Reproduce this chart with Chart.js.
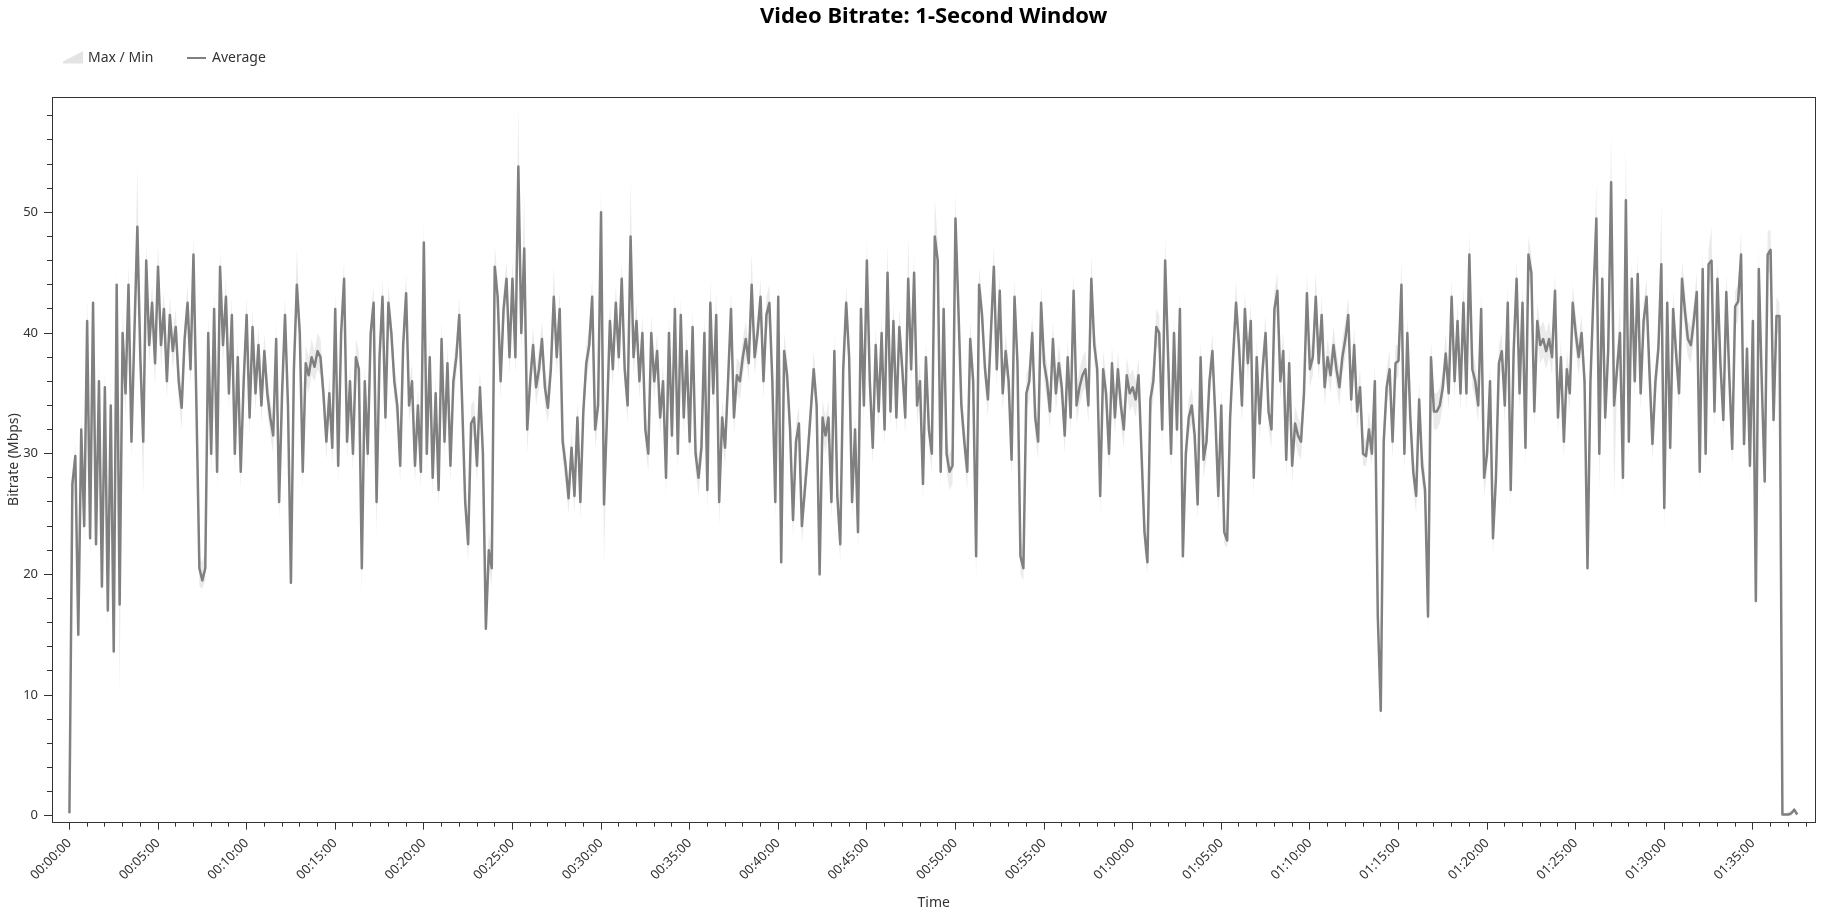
<!DOCTYPE html>
<html>
<head>
<meta charset="utf-8">
<title>Video Bitrate: 1-Second Window</title>
<script src="https://cdn.jsdelivr.net/npm/chart.js@4.4.1/dist/chart.umd.min.js"></script>
<style>
  html, body { margin: 0; padding: 0; background: #fff; }
  #wrap { width: 1842px; height: 917px; position: relative; }
</style>
</head>
<body>
<div id="wrap"><canvas id="bitrate-chart"></canvas></div>
<script>
// one sample every 10 seconds, values in Mbps
const sampleStep = 10;

const avgMbps = [
  0.2, 27.5, 29.8, 15, 32, 24, 41, 23, 42.5, 22.5,
  36, 19, 35.5, 17, 34, 13.6, 44, 17.5, 40, 35,
  44, 31, 40, 48.8, 38, 31, 46, 39, 42.5, 37.5,
  45.5, 39, 42, 36, 41.5, 38.5, 40.5, 36, 33.8, 39.5,
  42.5, 37, 46.5, 34, 20.5, 19.5, 20.5, 40, 30, 42,
  28.5, 45.5, 39, 43, 35, 41.5, 30, 38, 28.5, 36,
  41.5, 33, 40.5, 35, 39, 34, 38.5, 35, 33, 31.5,
  39.5, 26, 35, 41.5, 34, 19.3, 37, 44, 40, 28.5,
  37.5, 36.5, 38, 37.2, 38.5, 38, 35, 31, 35, 30.5,
  42, 29, 40, 44.5, 31, 36, 30, 38, 37, 20.5,
  36, 30, 40, 42.5, 26, 38, 43, 33, 42.5, 40,
  36, 34, 29, 39, 43.3, 34, 36, 29, 34, 28.5,
  47.5, 30, 38, 28, 35, 27, 39.5, 31, 37.5, 29,
  36, 38, 41.5, 34, 26, 22.5, 32.5, 33, 29, 35.5,
  30, 15.5, 22, 20.5, 45.5, 43, 36, 42, 44.5, 38,
  44.5, 38, 53.8, 40, 47, 32, 36, 39, 35.5, 37,
  39.5, 35.5, 33.8, 37, 43, 38, 42, 31, 29, 26.3,
  30.5, 26.5, 33, 26, 33.5, 37.5, 39, 43, 32, 34,
  50, 25.8, 33, 41, 37, 42.5, 38, 44.5, 37, 34,
  48, 38, 41, 36, 40, 32, 30, 40, 36, 38.5,
  33, 36, 28, 40, 31.5, 42, 30, 41.5, 33, 38.5,
  31, 40.5, 30, 28, 30.5, 40, 27, 42.5, 35, 41.5,
  26, 33, 30.5, 36, 42, 33, 36.5, 36, 38, 39.5,
  37.5, 44, 38, 40, 43, 36, 41.5, 42.5, 36, 26,
  43, 21, 38.5, 36.5, 32, 24.5, 31, 32.5, 24, 27,
  30, 33.5, 37, 34, 20, 33, 31.5, 33, 26, 38.5,
  26.5, 22.5, 37, 42.5, 38, 26, 32, 23.5, 42, 34,
  46, 36, 30.5, 39, 33.5, 40, 32, 45, 33.5, 41,
  33, 40.5, 37, 33, 44.5, 37, 45, 34, 36, 27.5,
  38, 32, 30, 48, 46, 28.5, 42, 30, 28.5, 29,
  49.5, 42, 34, 31, 28.5, 39.5, 36, 21.5, 44, 41.5,
  37, 34.5, 40, 45.5, 37, 43.5, 35, 38.5, 36, 29.5,
  43, 37.5, 21.5, 20.5, 35, 36, 40, 33, 31, 42.5,
  37.5, 36, 33.5, 39.5, 35, 37.5, 35.5, 31.5, 38, 33,
  43.5, 34, 35.5, 36.5, 37, 34, 44.5, 39, 37, 26.5,
  37, 35, 30, 37.5, 33, 37, 34, 32, 36.5, 35,
  35.5, 34.5, 36.5, 30, 23.5, 21, 34.5, 36, 40.5, 40,
  32, 46, 38, 30, 40, 32, 42, 21.5, 30, 33,
  34, 31.5, 25.8, 38, 29.5, 31, 36, 38.5, 33, 26.5,
  34, 23.5, 22.8, 33, 38, 42.5, 39, 34, 42, 37.5,
  41, 28, 38, 32.5, 37, 40, 33.5, 32, 42, 43.5,
  36, 38.5, 29.5, 37.5, 29, 32.5, 31.5, 31, 35, 43.3,
  37, 38, 43, 37.5, 41.5, 35.5, 38, 36.5, 39, 37,
  35.5, 38, 39.5, 41.5, 34.5, 39, 33.5, 35.5, 30, 29.8,
  32, 30, 36, 16.5, 8.7, 31, 35.5, 37, 31, 37.5,
  37.7, 44, 30, 40, 33, 28.5, 26.5, 34.5, 29, 27,
  16.5, 38, 33.5, 33.5, 34, 35.5, 38.3, 35, 43, 36,
  41, 35, 42.5, 35, 46.5, 37, 36, 34, 42, 28,
  30, 36, 23, 28, 37.5, 38.5, 34, 42.5, 27, 38.5,
  44.5, 35, 42.5, 30.5, 46.5, 45, 33.5, 41, 39, 39.5,
  38.5, 39.5, 38, 43.5, 33, 38, 31, 37, 35, 42.5,
  40, 38, 40, 36, 20.5, 36, 43, 49.5, 30, 44.5,
  33, 38.5, 52.5, 34, 37, 40, 28, 51, 31, 44.5,
  36, 44.9, 35, 41, 43, 36.7, 30.8, 36, 38.7, 45.7,
  25.5, 42.5, 30.5, 42, 38.3, 35, 44.5, 41.8, 39.5, 39,
  41, 43.4, 28.5, 45.3, 30, 45.7, 46, 33.5, 44.5, 37.5,
  32.8, 43.4, 36.5, 30.4, 42.2, 42.6, 46.5, 30.8, 38.7, 29,
  41, 17.8, 45.3, 36, 27.7, 46.5, 46.9, 32.8, 41.4, 41.4,
  0.1, 0.1, 0.1, 0.2, 0.5, 0.1
];

const maxMbps = [
  0.5, 28.5, 30.8, 17, 33.5, 26, 43, 25, 43.5, 24,
  38, 21, 37, 18.5, 36, 15, 45.5, 19, 42, 37,
  45.8, 33, 41.5, 53.7, 39.5, 33, 47.5, 41, 44, 39,
  47.5, 40.5, 43.5, 37.5, 43, 40, 42, 37.5, 35.5, 41,
  44, 38.5, 48, 36, 21.5, 21, 22, 41.5, 32, 43.5,
  30.5, 47, 40.5, 44.5, 36.5, 43, 31.5, 39.5, 30, 37.5,
  43, 34.5, 42, 36.5, 40.5, 35.5, 40, 36.5, 34.5, 33,
  41, 27.5, 36.5, 43, 35.5, 20.5, 38.5, 47, 41.5, 30,
  39, 38, 39.5, 38.5, 40, 39.5, 36.5, 32.5, 36.5, 32,
  43.5, 30.5, 41.5, 46, 32.5, 37.5, 31.5, 39.5, 38.5, 22,
  37.5, 31.5, 41.5, 44, 27.5, 39.5, 44.5, 34.5, 44, 41.5,
  37.5, 35.5, 30.5, 40.5, 45, 35.5, 37.5, 30.5, 35.5, 30,
  49.4, 31.5, 39.5, 29.5, 36.5, 28.5, 41, 32.5, 39, 30.5,
  37.5, 39.5, 43, 35.5, 27.5, 24, 34, 34.5, 30.5, 37,
  31.5, 17, 23.5, 22, 47.3, 44.5, 37.5, 43.5, 46, 39.5,
  46, 39.5, 59, 41.5, 51.6, 33.5, 37.5, 40.5, 37, 38.5,
  41, 37, 35.5, 38.5, 45.5, 39.5, 43.5, 32.5, 30.5, 27.5,
  32, 28, 34.5, 27.5, 35, 39, 40.5, 44.5, 33.5, 35.5,
  52.2, 27.5, 34.5, 42.5, 38.5, 44, 39.5, 46, 38.5, 35.5,
  52.7, 39.5, 42.5, 37.5, 41.5, 33.5, 31.5, 41.5, 37.5, 40,
  34.5, 37.5, 29.5, 41.5, 33, 43.5, 31.5, 43, 34.5, 40,
  32.5, 42, 31.5, 29.5, 32, 41.5, 28.5, 44.5, 36.5, 43.5,
  27.5, 34.5, 32, 37.5, 43.5, 34.5, 38, 37.5, 39.5, 41,
  39, 46.7, 39.5, 41.5, 44.5, 37.5, 43, 44, 37.5, 27.5,
  44.5, 22.5, 40, 38, 33.5, 26, 32.5, 34, 25.5, 28.5,
  31.5, 35, 38.5, 35.5, 21.5, 34.5, 33, 34.5, 27.5, 40,
  28, 24, 38.5, 44, 39.5, 27.5, 33.5, 25, 43.5, 35.5,
  47.7, 37.5, 32, 40.5, 35, 41.5, 33.5, 47.5, 35, 42.5,
  34.5, 42, 38.5, 34.5, 48, 38.5, 46.5, 35.5, 37.5, 29,
  39.5, 33.5, 31.5, 51.2, 47.5, 30, 43.5, 31.5, 30, 30.5,
  51.6, 43.5, 35.5, 32.5, 30, 41, 37.5, 23, 45.5, 43,
  38.5, 36, 41.5, 47.3, 38.5, 45, 36.5, 40, 37.5, 31,
  44.5, 39, 23, 22, 36.5, 37.5, 41.5, 34.5, 32.5, 44,
  39, 37.5, 35, 41, 36.5, 39, 37, 33, 39.5, 34.5,
  45, 35.5, 37, 38, 38.5, 35.5, 46.5, 40.5, 38.5, 28,
  38.5, 36.5, 31.5, 39, 34.5, 38.5, 35.5, 33.5, 38, 36.5,
  37, 36, 38, 31.5, 25, 22.5, 36, 37.5, 42, 41.5,
  33.5, 48, 39.5, 31.5, 41.5, 33.5, 43.5, 23, 31.5, 34.5,
  35.5, 33, 27.5, 39.5, 31, 32.5, 37.5, 40, 34.5, 28,
  35.5, 25, 24, 34.5, 39.5, 44.3, 40.5, 35.5, 43.5, 39,
  42.5, 29.5, 39.5, 34, 38.5, 41.5, 35, 33.5, 43.5, 45,
  37.5, 40, 31, 39, 30.5, 34, 33, 32.5, 36.5, 45,
  38.5, 39.5, 45.1, 39, 43, 37, 39.5, 38, 40.5, 38.5,
  37, 39.5, 41, 43, 36, 40.5, 35, 37, 31.5, 31,
  33.5, 31.5, 37.5, 18, 10, 32.5, 37, 38.5, 32.5, 39,
  39, 46, 31.5, 41.5, 34.5, 30, 28, 36, 30.5, 28.5,
  18, 39.5, 35, 35, 35.5, 37, 40, 36.5, 44.5, 37.5,
  42.5, 36.5, 44, 36.5, 48.4, 38.5, 37.5, 35.5, 43.5, 29.5,
  31.5, 37.5, 24.5, 29.5, 39, 40, 35.5, 44, 28.5, 40,
  46, 36.5, 44, 32, 48, 46.5, 35, 42.5, 40.5, 41,
  40, 41, 39.5, 45, 34.5, 39.5, 32.5, 38.5, 36.5, 44,
  41.5, 39.5, 41.5, 37.5, 22, 37.5, 44.5, 52.5, 31.5, 46,
  34.5, 40, 56.6, 35.5, 38.5, 42.5, 29.5, 55.7, 32.5, 46,
  37.5, 46.5, 36.5, 42.5, 44.5, 38, 32, 37.5, 40, 50.8,
  27, 44, 32, 43.5, 40, 36.5, 46, 43.5, 41, 40.5,
  42.5, 45, 30, 47, 31.5, 47, 48.8, 35, 46, 39,
  34.5, 45, 38, 32, 43.5, 44, 48.5, 32.5, 40, 30.5,
  42.5, 19, 47, 37.5, 29, 48.5, 48.5, 34.5, 43, 42.5,
  0.3, 0.2, 0.3, 0.4, 0.7, 0.2
];

const minMbps = [
  0, 25.5, 28, 14.5, 30, 22.5, 39, 21.5, 40.5, 21.5,
  34, 17.5, 33.5, 15.5, 32, 13, 41.5, 10, 38, 33,
  42, 29.5, 38.5, 46, 36, 26.5, 44, 37.5, 40.5, 35.5,
  43.5, 37, 40.5, 34.5, 40, 37, 39, 34.5, 32, 38,
  41, 35.5, 44.5, 32.5, 19, 18.8, 19.5, 38, 28, 40.5,
  27, 43.5, 37.5, 41.5, 33.5, 40, 28.5, 36.5, 27, 34.5,
  40, 31.5, 39, 33.5, 37.5, 32.5, 37, 33.5, 31.5, 30,
  38, 24.5, 33.5, 40, 32.5, 18.8, 35.5, 42.5, 38.5, 27,
  36, 35, 36.5, 36, 37, 36.5, 33.5, 29.5, 33.5, 29,
  40.5, 27.5, 38.5, 43, 29.5, 34.5, 28.5, 36.5, 35.5, 18.3,
  34.5, 28.5, 38.5, 41, 23.2, 36.5, 41.5, 31.5, 41, 38.5,
  34.5, 32.5, 27.5, 37.5, 42, 32.5, 34.5, 27.5, 32.5, 27,
  45.5, 28.5, 36.5, 26.5, 33.5, 25.5, 38, 29.5, 36, 27.5,
  34.5, 36.5, 40, 32.5, 24.5, 21, 31, 31.5, 27.5, 34,
  28.5, 15, 20.5, 19, 43.5, 41.5, 34.5, 40.5, 43, 36.5,
  43, 36.5, 50, 38.5, 45, 30, 34.5, 37.5, 34, 35.5,
  38, 34, 32.5, 35.5, 41.5, 36.5, 40.5, 29.5, 27.5, 25,
  29, 25, 31.5, 24.5, 32, 36, 37.5, 41.5, 30.5, 32.5,
  48, 20.7, 31.5, 39.5, 35.5, 41, 36.5, 43, 35.5, 32.5,
  46, 36.5, 39.5, 34.5, 38.5, 30.5, 28.5, 38.5, 34.5, 37,
  31.5, 34.5, 26.5, 38.5, 30, 40.5, 28.5, 40, 31.5, 37,
  29.5, 39, 28.5, 26.5, 29, 38.5, 25, 41, 33.5, 40,
  24, 31.5, 29, 34.5, 40.5, 31.5, 35, 34.5, 36.5, 38,
  36, 42.5, 36.5, 38.5, 41.5, 34.5, 40, 41, 34.5, 24.5,
  41.5, 19.8, 37, 35, 30.5, 23, 29.5, 31, 22.5, 25.5,
  28.5, 32, 35.5, 32.5, 19.1, 31.5, 30, 31.5, 24.5, 37,
  25, 21, 35.5, 41, 36.5, 24.5, 30.5, 22, 40.5, 32.5,
  44.5, 34.5, 29, 37.5, 32, 38.5, 30.5, 43.5, 32, 39.5,
  31.5, 39, 35.5, 31.5, 43, 35.5, 43.5, 32.5, 34.5, 26,
  36.5, 30.5, 28.5, 46, 44.5, 27, 40.5, 28.5, 27, 27.5,
  47.5, 40.5, 32.5, 29.5, 27, 38, 34.5, 19.5, 42.5, 40,
  35.5, 33, 38.5, 44, 35.5, 42, 33.5, 37, 34.5, 28,
  41.5, 36, 20, 19.5, 33.5, 34.5, 38.5, 31.5, 29.5, 41,
  36, 34.5, 32, 38, 33.5, 36, 34, 30, 36.5, 31.5,
  42, 32.5, 34, 35, 35.5, 32.5, 43, 37.5, 35.5, 25,
  35.5, 33.5, 28.5, 36, 31.5, 35.5, 32.5, 30.5, 35, 33.5,
  34, 33, 35, 28.5, 22, 20, 33, 34.5, 39, 38.5,
  30.5, 44.5, 36.5, 28.5, 38.5, 30.5, 40.5, 20.5, 28.5, 31.5,
  32.5, 30, 24.5, 36.5, 28, 29.5, 34.5, 37, 31.5, 25,
  32.5, 22.5, 22.2, 31.5, 36.5, 41, 37.5, 32.5, 40.5, 36,
  39.5, 26.5, 36.5, 31, 35.5, 38.5, 32, 30.5, 40.5, 42,
  34.5, 37, 28, 36, 27.5, 31, 30, 29.5, 33.5, 42,
  35.5, 36.5, 41.5, 36, 40, 34, 36.5, 35, 37.5, 35.5,
  34, 36.5, 38, 40, 33, 37.5, 32, 34, 29, 29,
  30.5, 29, 34.5, 15, 7.6, 29.5, 34, 35.5, 29.5, 36,
  36.5, 42.5, 28.5, 38.5, 31.5, 27, 25, 33, 27.5, 25.5,
  15.2, 36.5, 32, 32, 32.5, 34, 37, 33.5, 41.5, 34.5,
  39.5, 33.5, 41, 33.5, 44.5, 35.5, 34.5, 32.5, 40.5, 26.5,
  28.5, 34.5, 21.5, 26.5, 36, 37, 32.5, 41, 25.5, 37,
  43, 33.5, 41, 29, 44.5, 43.5, 32, 39.5, 37.5, 38,
  37, 38, 36.5, 42, 31.5, 36.5, 29.5, 35.5, 33.5, 41,
  38.5, 36.5, 38.5, 34.5, 19.5, 34.5, 41.5, 47.5, 27, 43,
  31.5, 37, 50, 26.5, 35.5, 38.5, 26.5, 48.5, 29.5, 43,
  34.5, 43.5, 33.5, 39.5, 41.5, 35, 29.5, 34.5, 37, 44,
  23.8, 41, 29, 40.5, 37, 33.5, 43, 40, 38, 37.5,
  39.5, 42, 27, 43.5, 28.5, 44, 44.5, 32, 43, 36,
  31.5, 42, 35, 29, 40.5, 41, 45, 29.5, 37, 27.5,
  39.5, 16.5, 43.5, 34.5, 26.5, 45, 45, 31.5, 40, 40,
  0, 0, 0, 0, 0.3, 0
];

const xTickLabels = [
  '00:00:00', '00:05:00', '00:10:00', '00:15:00', '00:20:00',
  '00:25:00', '00:30:00', '00:35:00', '00:40:00', '00:45:00',
  '00:50:00', '00:55:00', '01:00:00', '01:05:00', '01:10:00',
  '01:15:00', '01:20:00', '01:25:00', '01:30:00', '01:35:00'
];
const yTickLabels = ['0', '10', '20', '30', '40', '50'];

const legendLabels = ['Max / Min', 'Average'];

const FONT = '"Noto Sans", "Open Sans", sans-serif';
const lineColor = '#808080';
const bandColor = '#ebebeb';
const inkColor = '#333';

// axis ranges in seconds / Mbps
const xMin = -59, xMax = 5912;
const yMin = -0.58, yMax = 59.6;

const timeSeconds = avgMbps.map((_, i) => i * sampleStep);

const xMajorTicks = xTickLabels.map((_, i) => i * 300);
const xMinorTicks = [];
for (let s = 0; s <= 5880; s += 60) xMinorTicks.push(s);
const yMajorTicks = yTickLabels.map(Number);
const yMinorTicks = [];
for (let v = 0; v <= 58; v += 2) yMinorTicks.push(v);

Chart.defaults.font.family = FONT;
Chart.defaults.color = inkColor;

const frameAndLegend = {
    id: 'frameAndLegend',
    afterDraw(chart) {
        const { ctx, chartArea } = chart;
        ctx.save();
        // plot frame
        ctx.strokeStyle = inkColor;
        ctx.lineWidth = 1;
        const l = Math.round(chartArea.left) + 0.5;
        const t = Math.round(chartArea.top) + 0.5;
        const r = Math.round(chartArea.right) - 0.5;
        const b = Math.round(chartArea.bottom) - 0.5;
        ctx.strokeRect(l, t, r - l, b - t);

        // legend
        ctx.font = '14px ' + FONT;
        ctx.textBaseline = 'middle';
        ctx.textAlign = 'left';
        ctx.fillStyle = '#e4e4e4';
        ctx.beginPath();
        ctx.moveTo(63, 63.5);
        ctx.lineTo(83, 63.5);
        ctx.lineTo(83, 51);
        ctx.lineTo(63, 61.5);
        ctx.closePath();
        ctx.fill();
        ctx.fillStyle = inkColor;
        ctx.fillText(legendLabels[0], 88, 58);

        ctx.strokeStyle = lineColor;
        ctx.lineWidth = 2;
        ctx.beginPath();
        ctx.moveTo(187, 58);
        ctx.lineTo(206, 58);
        ctx.stroke();
        ctx.fillText(legendLabels[1], 212, 58);
        ctx.restore();
    }
};

const ctx = document.getElementById('bitrate-chart').getContext('2d');
const chart = new Chart(ctx, {
    type: 'line',
    data: {
        labels: timeSeconds,
        datasets: [
            {
                label: 'Average',
                data: avgMbps,
                borderColor: lineColor,
                borderWidth: 2.5,
                borderJoinStyle: 'round',
                pointRadius: 0,
                fill: false,
                tension: 0
            },
            {
                label: 'Max',
                data: maxMbps,
                borderColor: 'rgba(0,0,0,0)',
                borderWidth: 0,
                pointRadius: 0,
                fill: false,
                tension: 0
            },
            {
                label: 'Min',
                data: minMbps,
                borderColor: 'rgba(0,0,0,0)',
                borderWidth: 0,
                backgroundColor: bandColor,
                pointRadius: 0,
                fill: '-1',
                tension: 0
            }
        ]
    },
    options: {
        responsive: true,
        maintainAspectRatio: false,
        animation: false,
        events: [],
        layout: { padding: { left: 0, right: 26.5, top: 0, bottom: 0 } },
        plugins: {
            legend: { display: false },
            tooltip: { enabled: false },
            title: {
                display: true,
                fullSize: false,
                text: 'Video Bitrate: 1-Second Window',
                color: '#000',
                font: { size: 22, weight: 'bold' },
                padding: { top: 4, bottom: 66.1 }
            }
        },
        scales: {
            x: {
                type: 'linear',
                position: 'bottom',
                weight: 1,
                min: xMin,
                max: xMax,
                afterBuildTicks: axis => { axis.ticks = xMajorTicks.map(v => ({ value: v })); },
                afterFit: axis => { axis.height = 94.3; },
                ticks: {
                    autoSkip: false,
                    minRotation: 45,
                    maxRotation: 45,
                    padding: 6,
                    color: inkColor,
                    font: { size: 13 },
                    callback: (value, index) => xTickLabels[index]
                },
                grid: { display: true, drawOnChartArea: false, drawTicks: true, tickLength: 7, color: inkColor },
                border: { display: false },
                title: { display: true, text: 'Time', color: inkColor, font: { size: 14 }, padding: { top: 0, bottom: 6 } }
            },
            xMinor: {
                type: 'linear',
                position: 'bottom',
                weight: 0,
                min: xMin,
                max: xMax,
                afterBuildTicks: axis => { axis.ticks = xMinorTicks.map(v => ({ value: v })); },
                afterFit: axis => { axis.height = 0; },
                ticks: { display: false },
                grid: { display: true, drawOnChartArea: false, drawTicks: true, tickLength: 4, color: inkColor },
                border: { display: false }
            },
            y: {
                type: 'linear',
                position: 'left',
                weight: 1,
                min: yMin,
                max: yMax,
                afterBuildTicks: axis => { axis.ticks = yMajorTicks.map(v => ({ value: v })); },
                afterFit: axis => { axis.width = 52; },
                ticks: {
                    padding: 6,
                    color: inkColor,
                    font: { size: 13 },
                    callback: (value, index) => yTickLabels[index]
                },
                grid: { display: true, drawOnChartArea: false, drawTicks: true, tickLength: 8, color: inkColor },
                border: { display: false },
                title: { display: true, text: 'Bitrate (Mbps)', color: inkColor, font: { size: 14 }, padding: { top: 6, bottom: 0 } }
            },
            yMinor: {
                type: 'linear',
                position: 'left',
                weight: 0,
                min: yMin,
                max: yMax,
                afterBuildTicks: axis => { axis.ticks = yMinorTicks.map(v => ({ value: v })); },
                afterFit: axis => { axis.width = 0; },
                ticks: { display: false },
                grid: { display: true, drawOnChartArea: false, drawTicks: true, tickLength: 5, color: inkColor },
                border: { display: false }
            }
        }
    },
    plugins: [frameAndLegend]
});
</script>
</body>
</html>
